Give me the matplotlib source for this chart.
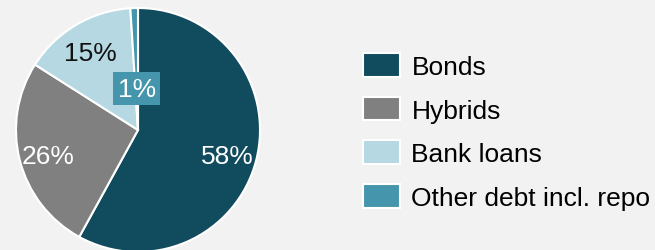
import numpy as np
import matplotlib.pyplot as plt

plt.rcParams['font.family'] = ['Liberation Sans', 'DejaVu Sans']

# debt mix, share of total (%)
categories = ['Bonds', 'Hybrids', 'Bank loans', 'Other debt incl. repo']
shares = [58, 26, 15, 1]
colors = ['#114b5e', '#808080', '#b5d8e2', '#4596ac']
text_colors = ['white', 'white', '#111111', 'white']

bg = '#f2f2f2'
fig = plt.figure(figsize=(6.55, 2.51), dpi=100, facecolor=bg)
ax = fig.add_axes([16/655, -2/251, 244/655, 244/251])
ax.set_facecolor(bg)

wedges, texts, autotexts = ax.pie(
    shares, colors=colors, startangle=90, counterclock=False,
    autopct='%1.0f%%', pctdistance=0.76,
    wedgeprops=dict(edgecolor='white', linewidth=1.5),
    textprops=dict(fontsize=19))

for t, c in zip(autotexts, text_colors):
    t.set_color(c)
    t.set_va('center_baseline')

# the small slice gets its label pulled inward in a box
last = autotexts[-1]
theta = np.deg2rad(90 - 360 * (sum(shares[:-1]) + shares[-1] / 2) / sum(shares))
r = 0.36
last.set_position((r * np.cos(theta), r * np.sin(theta)))
last.set_bbox(dict(facecolor=colors[-1], edgecolor='none', pad=3))

ax.set_xlim(-1, 1)
ax.set_ylim(-1, 1)
ax.set_aspect('equal')
ax.axis('off')

leg = fig.legend(wedges, categories, loc='upper left',
                 bbox_to_anchor=(352/655, 1 - 43/251),
                 frameon=False, fontsize=19,
                 handlelength=1.4, handleheight=1.02,
                 handletextpad=0.45, labelspacing=0.68, borderaxespad=0)

fig.savefig('out.png', dpi=100, facecolor=bg)
